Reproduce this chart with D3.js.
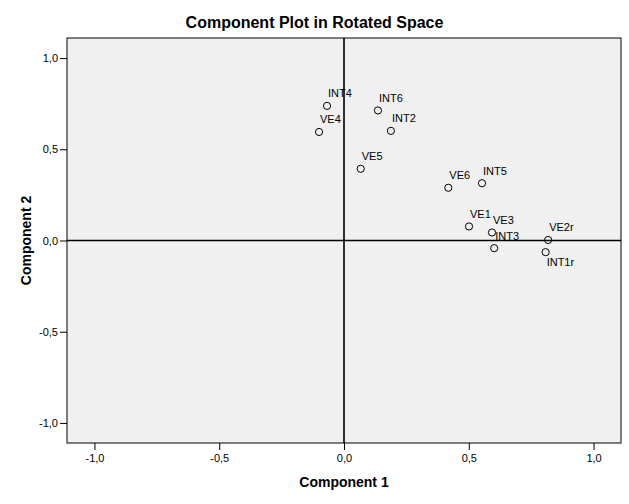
<!DOCTYPE html>
<html><head><meta charset="utf-8">
<script src="https://cdn.jsdelivr.net/npm/d3@7"></script>
<style>body{margin:0;background:#fff;} svg{display:block;}</style>
</head><body>
<svg id="c" width="629" height="504"></svg>
<script>
const labels = ["INT4","VE4","INT6","INT2","VE5","VE6","INT5","VE1","VE3","INT3","VE2r","INT1r"];
const comp1  = [-0.068,-0.100,0.136,0.188,0.067,0.418,0.553,0.501,0.593,0.602,0.818,0.808];
const comp2  = [0.738,0.595,0.713,0.601,0.393,0.289,0.314,0.077,0.044,-0.042,0.003,-0.064];
const tickValues = [-1.0,-0.5,0.0,0.5,1.0];
const labelsBelow = ["INT1r"];
const title = "Component Plot in Rotated Space";
const xTitle = "Component 1", yTitle = "Component 2";

const svg = d3.select("#c");
const W = 629, H = 504;
const m = {l:67, r:8, t:38, b:61};
const x = d3.scaleLinear().domain([-1.11,1.11]).range([m.l, W-m.r]);
const y = d3.scaleLinear().domain([-1.11,1.11]).range([H-m.b, m.t]);
const fmt = v => d3.format(".1f")(v).replace(".", ",").replace("\u2212","-");
const font = "'Liberation Sans', Arial, sans-serif";

svg.append("rect").attr("x",m.l).attr("y",m.t).attr("width",W-m.l-m.r).attr("height",H-m.t-m.b)
  .attr("fill","#f0f0f0").attr("stroke","#000").attr("stroke-width",1);

// axes
const xa = svg.append("g").attr("transform",`translate(0,${H-m.b})`)
  .call(d3.axisBottom(x).tickValues(tickValues).tickFormat(fmt).tickSize(7).tickPadding(4));
const ya = svg.append("g").attr("transform",`translate(${m.l},0)`)
  .call(d3.axisLeft(y).tickValues(tickValues).tickFormat(fmt).tickSize(7).tickPadding(2));
[xa,ya].forEach(g=>{
  g.select(".domain").remove();
  g.selectAll("line").attr("stroke","#000");
  g.selectAll("text").attr("font-family",font).attr("font-size",11).attr("fill","#000");
});

// zero reference lines
svg.append("line").attr("x1",x(0)).attr("x2",x(0)).attr("y1",m.t).attr("y2",H-m.b)
  .attr("stroke","#000").attr("stroke-width",1.6);
svg.append("line").attr("x1",m.l).attr("x2",W-m.r).attr("y1",y(0)).attr("y2",y(0))
  .attr("stroke","#000").attr("stroke-width",1.6);

const pts = labels.map((d,i)=>({name:d, a:comp1[i], b:comp2[i]}));
svg.append("g").selectAll("circle").data(pts).join("circle")
  .attr("cx",d=>x(d.a)).attr("cy",d=>y(d.b)).attr("r",3.6)
  .attr("fill","none").attr("stroke","#000").attr("stroke-width",1);
svg.append("g").selectAll("text").data(pts).join("text")
  .attr("x",d=>x(d.a)+1)
  .attr("y",d=>labelsBelow.includes(d.name) ? y(d.b)+13.5 : y(d.b)-8.5)
  .attr("font-family",font).attr("font-size",11).attr("fill","#000")
  .text(d=>d.name);

svg.append("text").attr("x",W/2).attr("y",28).attr("text-anchor","middle")
  .attr("font-family",font).attr("font-weight","bold").attr("font-size",16).text(title);
svg.append("text").attr("x",x(0)).attr("y",487).attr("text-anchor","middle")
  .attr("font-family",font).attr("font-weight","bold").attr("font-size",14).text(xTitle);
svg.append("text").attr("transform",`translate(31,${y(0)}) rotate(-90)`).attr("text-anchor","middle")
  .attr("font-family",font).attr("font-weight","bold").attr("font-size",14).text(yTitle);
</script>
</body></html>
